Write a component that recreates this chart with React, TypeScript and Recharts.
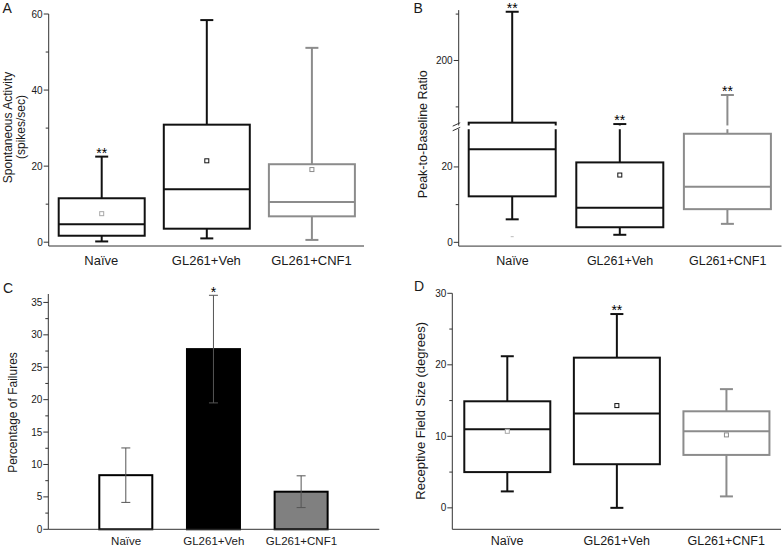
import React from 'react';
import { ComposedChart, Bar, XAxis, YAxis, ErrorBar } from 'recharts';

const W = 782;
const H = 548;

const groups = ['Naïve', 'GL261+Veh', 'GL261+CNF1'];

// A: spontaneous activity (spikes/sec)
const aMin = [0.2, 1.0, 0.6];
const aQ1 = [1.7, 3.55, 6.8];
const aMed = [4.7, 13.9, 10.6];
const aQ3 = [11.55, 30.9, 20.5];
const aMax = [22.5, 58.4, 51.1];
const aMean = [7.5, 21.4, 19.1];
const aLow = [null, null, null];
const aSig = ['**', '', ''];
const aTicks = [0, 10, 20, 30, 40, 50, 60];
const aLabeled = [0, 20, 40, 60];

// B: peak-to-baseline ratio (broken axis 30 -> 60)
const bMin = [6.1, 2.0, 4.9];
const bQ1 = [12.2, 4.0, 8.8];
const bMed = [24.7, 9.2, 14.75];
const bQ3 = [66, 21.2, 28.8];
const bMax = [305, 63, 125.6];
const bMean = [null, 17.85, null];
const bLow = [1.5, null, null];
const bSig = ['**', '**', '**'];
const bTicks = [0, 10, 20, 100, 200, 300];
const bLabeled = [0, 20, 200];
const bBreak = [30, 60];

// C: percentage of failures
const cMean = [8.35, 27.8, 5.8];
const cErr = [4.2, 8.3, 2.45];
const cSig = ['', '*', ''];
const cTicks = [0, 2.5, 5, 7.5, 10, 12.5, 15, 17.5, 20, 22.5, 25, 27.5, 30, 32.5, 35];
const cLabeled = [0, 5, 10, 15, 20, 25, 30, 35];

// D: receptive field size (degrees)
const dMin = [2.3, 0, 1.6];
const dQ1 = [5.0, 6.1, 7.4];
const dMed = [11.0, 13.2, 10.7];
const dQ3 = [14.9, 21.0, 13.5];
const dMax = [21.2, 27.1, 16.6];
const dMean = [10.7, 14.3, 10.2];
const dLow = [null, null, null];
const dSig = ['', '**', ''];
const dTicks = [0, 5, 10, 15, 20, 25, 30];
const dLabeled = [0, 10, 20, 30];

const boxColors = ['#111', '#111', '#8c8c8c'];
const meanColors = ['#a8a8a8', '#111', '#8c8c8c'];
const barFills = ['#ffffff', '#000000', '#808080'];
const AXIS = '#333';
const TXT = '#1a1a1a';

// piecewise map for the broken axis of panel B
const UP_K = 0.1231;
const brk = (v: number) =>
  v <= bBreak[0] ? v : v < bBreak[1] ? bBreak[0] + (v - bBreak[0]) / (bBreak[1] - bBreak[0]) : bBreak[0] + 1 + (v - bBreak[1]) * UP_K;
const BREAK_MID = bBreak[0] + 0.5;

type Row = {
  name: string; lo: number; hi: number; q1: number; med: number; q3: number;
  mean: number | null; low: number | null; sig: string;
};

function boxRows(min: number[], q1: number[], med: number[], q3: number[], max: number[],
  mean: (number | null)[], low: (number | null)[], sig: string[], f = (v: number) => v): Row[] {
  return groups.map((name, i) => ({
    name,
    lo: f(min[i]), hi: f(max[i]), q1: f(q1[i]), med: f(med[i]), q3: f(q3[i]),
    mean: mean[i] == null ? null : f(mean[i] as number),
    low: low[i] == null ? null : f(low[i] as number),
    sig: sig[i],
  }));
}

const dataA = boxRows(aMin, aQ1, aMed, aQ3, aMax, aMean, aLow, aSig);
const dataB = boxRows(bMin, bQ1, bMed, bQ3, bMax, bMean, bLow, bSig, brk);
const dataD = boxRows(dMin, dQ1, dMed, dQ3, dMax, dMean, dLow, dSig);
const dataC = groups.map((name, i) => ({ name, value: cMean[i], err: cErr[i], sig: cSig[i] }));

const makeBox = (gap?: [number, number]) => (props: any) => {
  const { x, y, width, height, payload } = props;
  const i = groups.indexOf(payload.name);
  const col = boxColors[i];
  const { lo, hi } = payload as Row;
  const px = (v: number) => y + (height * (hi - v)) / (hi - lo);
  const cx = x + width / 2;
  const cap = 6.5;
  const sw = 2;
  return (
    <g>
      <line x1={cx} x2={cx} y1={px(hi)} y2={px(payload.q3)} stroke={col} strokeWidth={sw} />
      <line x1={cx - cap} x2={cx + cap} y1={px(hi)} y2={px(hi)} stroke={col} strokeWidth={sw} />
      <line x1={cx} x2={cx} y1={px(payload.q1)} y2={px(lo)} stroke={col} strokeWidth={sw} />
      <line x1={cx - cap} x2={cx + cap} y1={px(lo)} y2={px(lo)} stroke={col} strokeWidth={sw} />
      <rect x={x} y={px(payload.q3)} width={width} height={px(payload.q1) - px(payload.q3)}
        fill="none" stroke={col} strokeWidth={sw} />
      <line x1={x} x2={x + width} y1={px(payload.med)} y2={px(payload.med)} stroke={col} strokeWidth={sw} />
      {payload.mean != null && (
        <rect x={cx - 2} y={px(payload.mean) - 2} width={4} height={4} fill="#fff"
          stroke={meanColors[i]} strokeWidth={1} />
      )}
      {payload.low != null && (
        <line x1={cx - 1.5} x2={cx + 1.5} y1={px(payload.low)} y2={px(payload.low)} stroke="#bbb" strokeWidth={1} />
      )}
      {gap && (
        <rect x={x - 3} y={px(gap[1])} width={width + 6} height={px(gap[0]) - px(gap[1])} fill="#fff" />
      )}
      {payload.sig && (
        <text x={cx} y={px(hi) + 1} textAnchor="middle" fontSize={14} fill="#000">{payload.sig}</text>
      )}
    </g>
  );
};

const CBar = (props: any) => {
  const { x, y, width, height, payload } = props;
  const i = groups.indexOf(payload.name);
  const perUnit = height / payload.value;
  const top = y - payload.err * perUnit;
  return (
    <g>
      <rect x={x} y={y} width={width} height={height} fill={barFills[i]} stroke="#000" strokeWidth={2} />
      {payload.sig && (
        <text x={x + width / 2} y={top + 1.5} textAnchor="middle" fontSize={14} fill="#000">{payload.sig}</text>
      )}
    </g>
  );
};

const makeYTick = (labels: Map<number, string>, breakAt?: number) => (props: any) => {
  const { x, y, payload } = props;
  const v = payload.value;
  if (breakAt != null && v === breakAt) {
    return (
      <g>
        <rect x={x - 1.5} y={y - 1.8} width={3} height={3.4} fill="#fff" />
        <line x1={x - 6} y1={y - 1.2} x2={x + 1.5} y2={y - 4.6} stroke={AXIS} strokeWidth={1} />
        <line x1={x - 6} y1={y + 3.4} x2={x + 1.5} y2={y} stroke={AXIS} strokeWidth={1} />
      </g>
    );
  }
  const lab = labels.get(v);
  return (
    <g>
      <line x1={x - (lab != null ? 5 : 3)} x2={x} y1={y} y2={y} stroke={AXIS} strokeWidth={1} />
      {lab != null && (
        <text x={x - 6} y={y} dy="0.35em" textAnchor="end" fontSize={10} fill={TXT}>{lab}</text>
      )}
    </g>
  );
};

const labelMap = (ticks: number[], f = (v: number) => v) => new Map(ticks.map((t) => [f(t), String(t)]));

const rot = (x: number, y: number, size: number, s: string, key: string) => (
  <text key={key} x={x} y={y} transform={`rotate(-90 ${x} ${y})`} textAnchor="middle"
    dominantBaseline="central" fontSize={size} fill={TXT}>{s}</text>
);
const letter = (x: number, y: number, s: string) => (
  <text x={x} y={y} fontSize={14} fill={TXT}>{s}</text>
);

const titleA = () => (
  <g>
    {letter(2.5, 13.4, 'A')}
    {rot(8, 127.5, 12, 'Spontaneous Activity', 'a1')}
    {rot(21, 127, 12, '(spikes/sec)', 'a2')}
  </g>
);
const titleB = () => (
  <g>
    {letter(413.5, 12.8, 'B')}
    {rot(422.7, 134.2, 12.5, 'Peak-to-Baseline Ratio', 'b1')}
  </g>
);
const titleC = () => (
  <g>
    {letter(3, 292.8, 'C')}
    {rot(13.3, 412.5, 12, 'Percentage of Failures', 'c1')}
  </g>
);
const titleD = () => (
  <g>
    {letter(414, 290.8, 'D')}
    {rot(421, 410.8, 13, 'Receptive Field Size (degrees)', 'd1')}
  </g>
);

const layer: React.CSSProperties = { position: 'absolute', left: 0, top: 0 };

const xAxisProps = (fontSize: number, margin: number, height: number) => ({
  dataKey: 'name',
  type: 'category' as const,
  interval: 0,
  tickLine: false,
  tickSize: 0,
  tickMargin: margin,
  height,
  axisLine: { stroke: AXIS, strokeWidth: 1 },
  tick: { fontSize, fill: TXT },
});

export default function App() {
  return (
    <div style={{ position: 'absolute', left: 0, top: 0, width: W, height: H, background: '#fff',
      fontFamily: '"Liberation Sans", Arial, Helvetica, sans-serif' }}>
      {/* A */}
      <div style={layer}>
        <ComposedChart width={W} height={H} data={dataA} margin={{ top: 14, right: 418, bottom: 272, left: 8.7 }}>
          <XAxis {...xAxisProps(13, 10, 30)} />
          <YAxis type="number" domain={[-1, 60]} ticks={aTicks} interval={0} width={40}
            tickSize={0} tickMargin={0} tickLine={false} axisLine={{ stroke: AXIS }}
            tick={makeYTick(labelMap(aLabeled))} label={titleA} />
          <Bar dataKey={(d: Row) => [d.lo, d.hi]} barSize={86} shape={makeBox()} isAnimationActive={false} />
        </ComposedChart>
      </div>
      {/* B */}
      <div style={layer}>
        <ComposedChart width={W} height={H} data={dataB} margin={{ top: 10.1, right: 0.5, bottom: 271.9, left: 418.7 }}>
          <XAxis {...xAxisProps(12.5, 10, 30)} />
          <YAxis type="number" domain={[-1, 61.6]} ticks={[...bTicks.map(brk), BREAK_MID]} interval={0} width={40}
            tickSize={0} tickMargin={0} tickLine={false} axisLine={{ stroke: AXIS }}
            tick={makeYTick(labelMap(bLabeled, brk), BREAK_MID)} label={titleB} />
          <Bar dataKey={(d: Row) => [d.lo, d.hi]} barSize={87} shape={makeBox([bBreak[0], bBreak[0] + 1])}
            isAnimationActive={false} />
        </ComposedChart>
      </div>
      {/* C */}
      <div style={layer}>
        <ComposedChart width={W} height={H} data={dataC} margin={{ top: 294, right: 402.7, bottom: 0.7, left: 8.3 }}>
          <XAxis {...xAxisProps(11.5, 8, 18)} padding={{ left: 34, right: 34 }} />
          <YAxis type="number" domain={[0, 36.3]} ticks={cTicks} interval={0} width={40}
            tickSize={0} tickMargin={0} tickLine={false} axisLine={{ stroke: AXIS }}
            tick={makeYTick(labelMap(cLabeled))} label={titleC} />
          <Bar dataKey="value" barSize={53} shape={CBar} isAnimationActive={false}>
            <ErrorBar dataKey="err" width={4.5} stroke="#555" strokeWidth={1} direction="y" />
          </Bar>
        </ComposedChart>
      </div>
      {/* D */}
      <div style={layer}>
        <ComposedChart width={W} height={H} data={dataD} margin={{ top: 293.3, right: 1, bottom: 0.7, left: 412.3 }}>
          <XAxis {...xAxisProps(12.5, 7.3, 18)} />
          <YAxis type="number" domain={[-3, 30]} ticks={dTicks} interval={0} width={40}
            tickSize={0} tickMargin={0} tickLine={false} axisLine={{ stroke: AXIS }}
            tick={makeYTick(labelMap(dLabeled))} label={titleD} />
          <Bar dataKey={(d: Row) => [d.lo, d.hi]} barSize={86} shape={makeBox()} isAnimationActive={false} />
        </ComposedChart>
      </div>
    </div>
  );
}
